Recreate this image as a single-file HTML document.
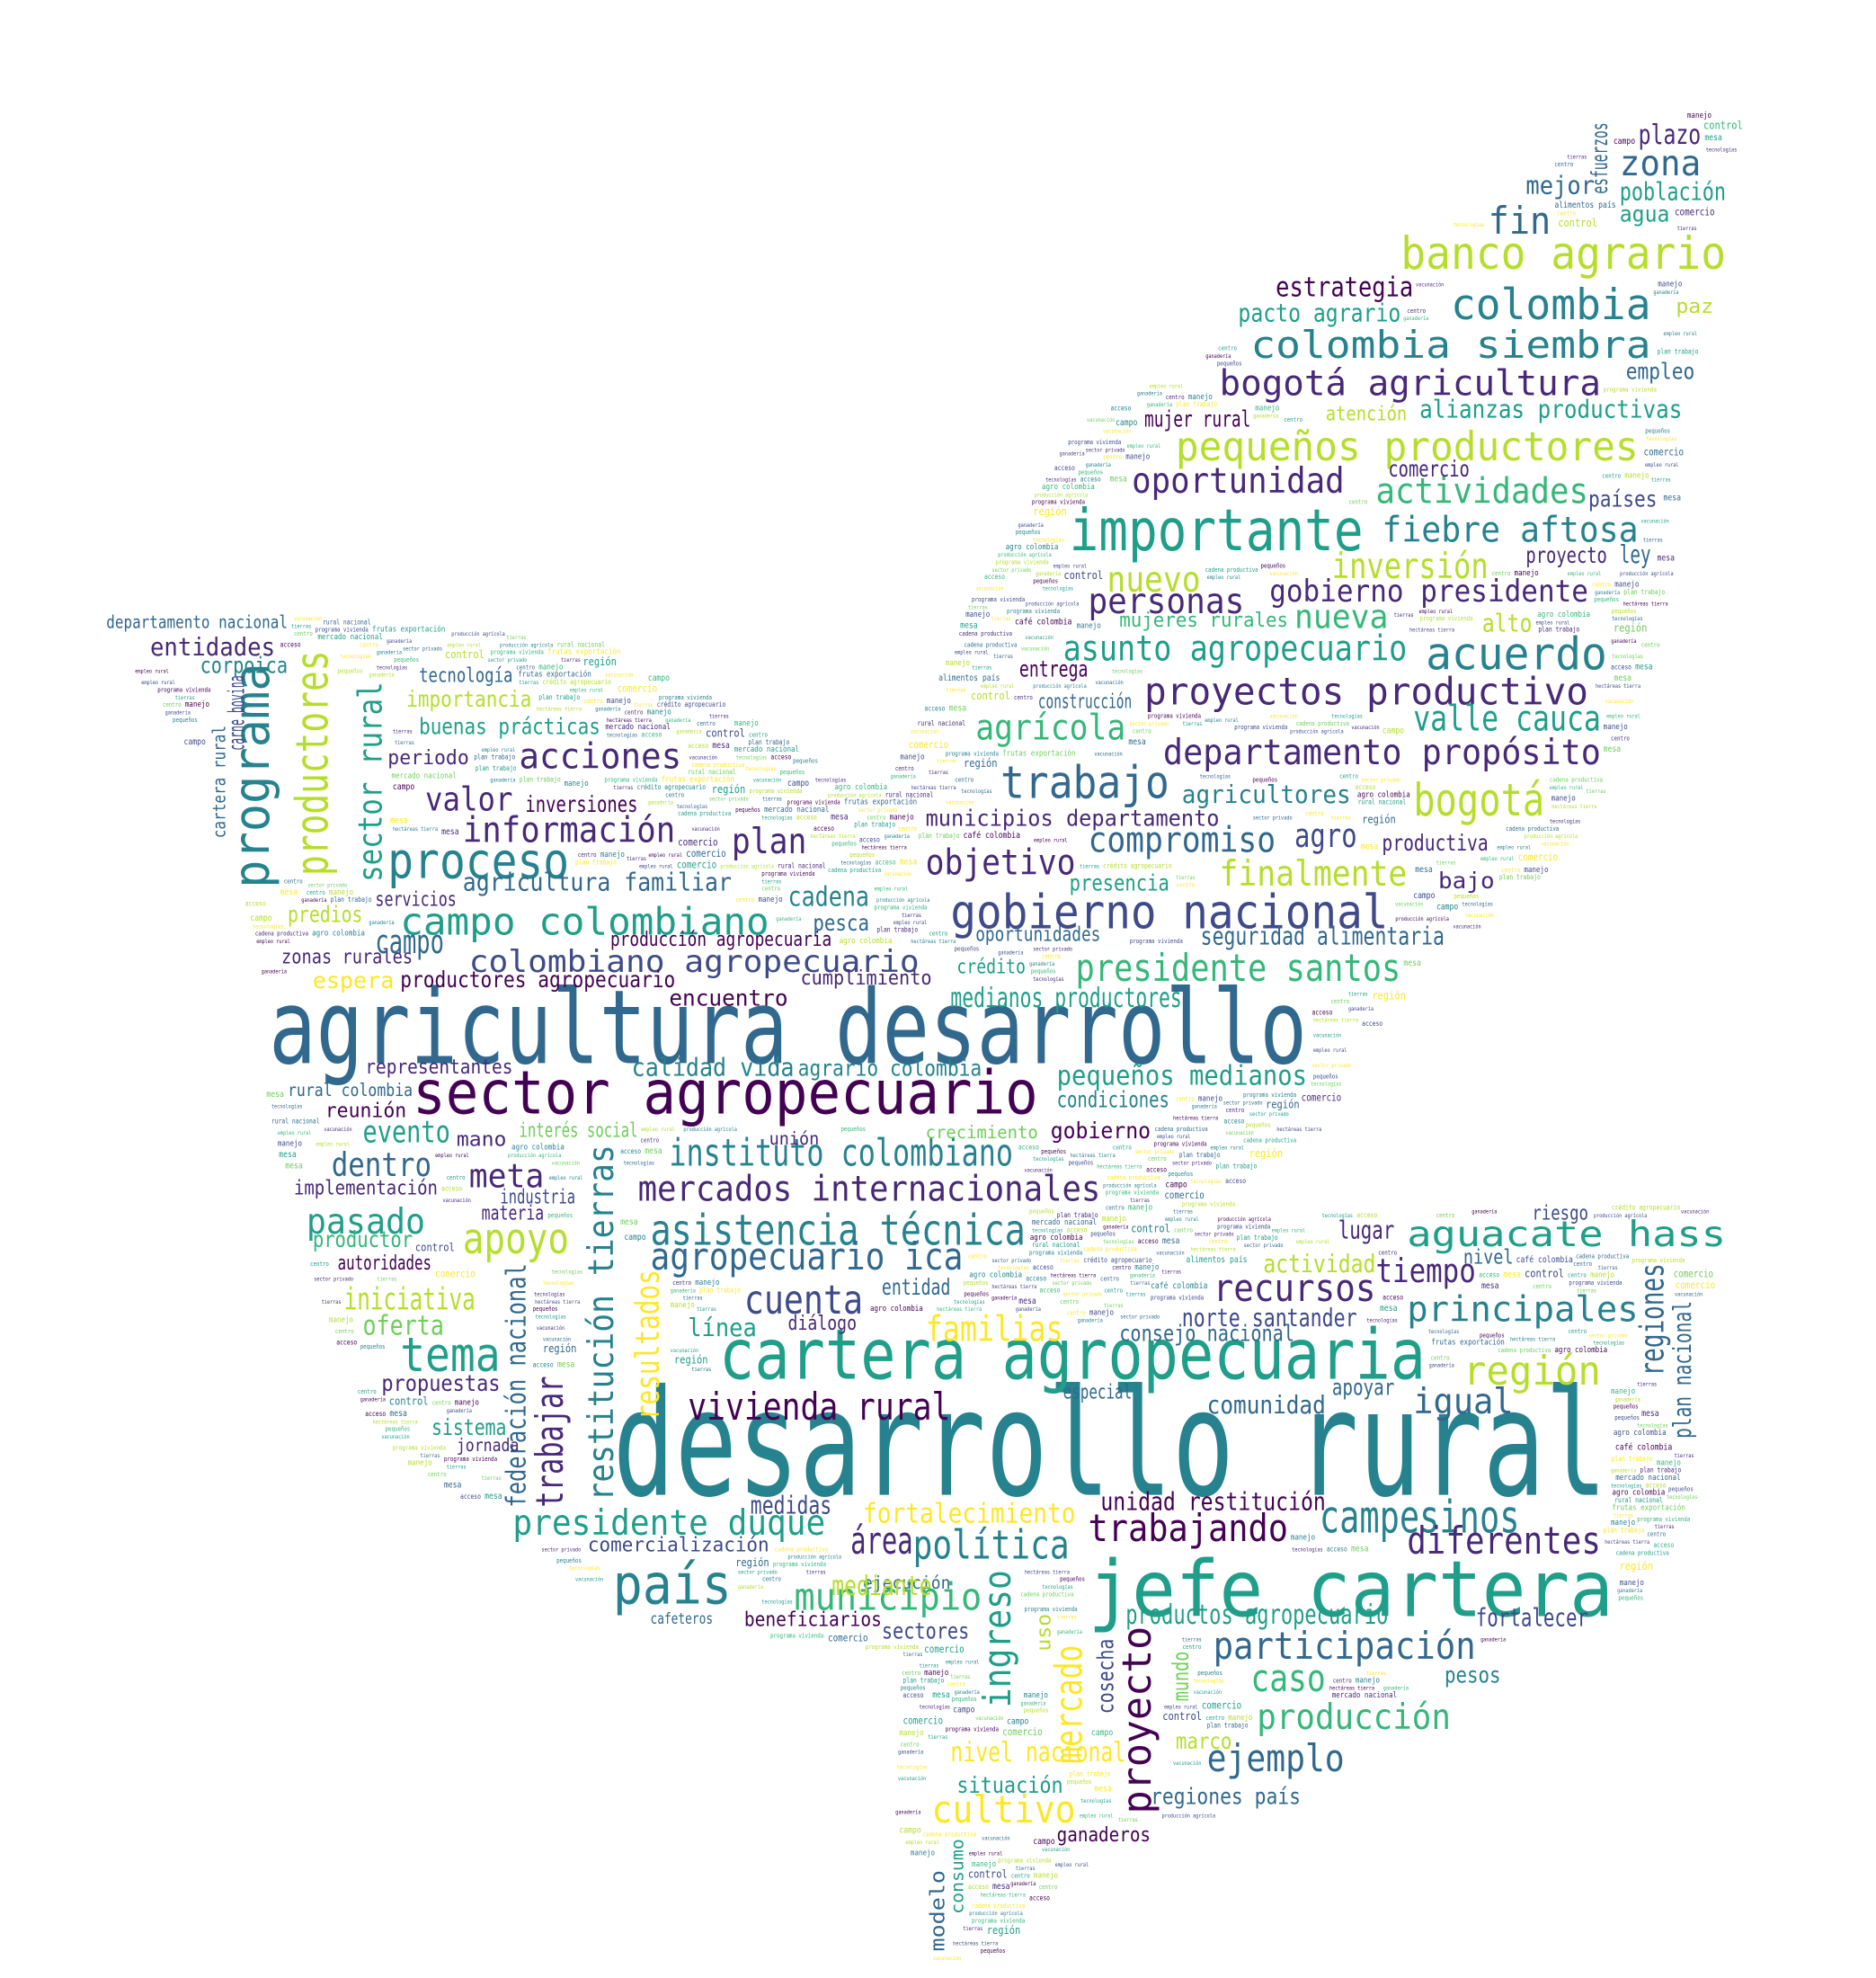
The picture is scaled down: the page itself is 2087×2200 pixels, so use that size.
<!DOCTYPE html>
<html><head><meta charset="utf-8"><style>
html,body{margin:0;padding:0;background:#fff;}
svg{display:block;}
text{font-family:"DejaVu Sans Mono","Liberation Mono",monospace;}
</style></head><body>
<svg id="cloud" width="2087" height="2200" viewBox="0 0 1500 1581.2" preserveAspectRatio="none" xmlns="http://www.w3.org/2000/svg">
<rect width="1500" height="1581.2" fill="#fff"/>
<g id="filler"></g>
<g id="main"></g>
</svg>
<script>
const C=['#440154','#482878','#3e4a89','#31688e','#26828e','#1f9e89','#35b779','#6ece58','#b5de2b','#fde725'];
// [text, a, b, c, size, colorIndex, rot]  rot0: x1,x2,baseline ; rot1: baselineX, yBottom, yTop
const words=[
["desarrollo rural",490,1285,1195,118,4,0],
["agricultura desarrollo",215,1045,850,82,3,0],
["jefe cartera",870,1290,1292,62,5,0],
["cartera agropecuaria",575,1140,1102,56,5,0],
["sector agropecuario",330,830,890,48,0,0],
["importante",855,1090,440,46,5,0],
["gobierno nacional",760,1110,742,38,2,0],
["banco agrario",1120,1380,215,36,8,0],
["colombia",1160,1320,255,34,4,0],
["colombia siembra",1000,1320,286,30,4,0],
["bogotá agricultura",975,1280,316,28,1,0],
["pequeños productores",940,1310,368,32,8,0],
["proyectos productivo",915,1270,563,30,1,0],
["acuerdo",1140,1285,535,36,4,0],
["campo colombiano",320,615,747,30,5,0],
["proceso",310,455,702,40,4,0],
["programa",215,710,530,40,4,1],
["productores",262,700,520,36,8,1],
["sector rural",305,705,545,26,5,1],
["asistencia técnica",520,820,995,34,4,0],
["mercados internacionales",510,880,960,28,1,0],
["instituto colombiano",535,810,932,30,4,0],
["país",490,585,1282,44,4,0],
["presidente santos",860,1120,784,30,6,0],
["trabajo",800,935,638,36,3,0],
["bogotá",1130,1235,652,36,8,0],
["campesinos",1055,1215,1225,36,4,0],
["vivienda rural",550,760,1135,30,0,0],
["política",730,855,1246,32,4,0],
["trabajando",870,1030,1232,30,0,0],
["presidente duque",410,660,1227,28,5,0],
["municipio",635,785,1287,30,6,0],
["cuenta",595,690,1050,32,2,0],
["tema",320,400,1096,38,5,0],
["apoyo",370,455,1002,34,8,0],
["agropecuario ica",520,770,1015,30,3,0],
["recursos",970,1100,1040,30,1,0],
["región",1170,1280,1107,32,8,0],
["aguacate hass",1125,1380,996,28,5,0],
["principales",1125,1310,1056,28,4,0],
["diferentes",1125,1280,1242,30,1,0],
["participación",970,1180,1326,30,3,0],
["producción",1005,1160,1382,28,6,0],
["ejemplo",965,1075,1416,30,3,0],
["caso",1000,1060,1352,30,6,0],
["cultivo",745,860,1457,30,9,0],
["fiebre aftosa",1105,1310,433,28,4,0],
["inversión",1065,1190,462,28,8,0],
["gobierno presidente",1015,1270,481,24,1,0],
["oportunidad",905,1075,394,28,1,0],
["nuevo",885,960,473,28,8,0],
["personas",870,995,490,28,1,0],
["actividades",1100,1270,402,28,6,0],
["alianzas productivas",1135,1345,334,20,5,0],
["valle cauca",1130,1280,584,28,5,0],
["departamento propósito",930,1280,611,28,1,0],
["asunto agropecuario",850,1125,528,28,5,0],
["agrícola",780,900,591,28,6,0],
["objetivo",740,860,699,28,1,0],
["compromiso",870,1020,681,28,3,0],
["finalmente",975,1125,708,28,8,0],
["información",370,540,673,28,1,0],
["acciones",415,545,614,28,1,0],
["valor",340,410,648,26,1,0],
["plan",585,645,682,28,1,0],
["colombiano agropecuario",375,735,777,24,2,0],
["productores agropecuario",320,540,789,18,0,0],
["fin",1190,1240,187,30,3,0],
["zona",1295,1360,140,28,3,0],
["estrategia",1020,1130,237,22,0,0],
["pacto agrario",990,1120,257,20,5,0],
["entidades",120,220,524,20,1,0],
["departamento nacional",85,230,502,14,3,0],
["dentro",265,345,940,26,3,0],
["evento",290,360,913,24,5,0],
["pasado",245,340,986,28,5,0],
["meta",375,435,949,26,1,0],
["iniciativa",275,380,1047,24,8,0],
["restitución tierras",490,1200,915,28,4,1],
["trabajar",450,1205,1100,30,1,1],
["federación nacional",420,1205,1010,22,3,1],
["proyecto",920,1450,1300,32,0,1],
["mercado",865,1410,1315,30,9,1],
["ingreso",808,1365,1255,30,5,1],
["resultados",527,1135,1015,26,9,1],
["fortalecimiento",690,860,1217,22,9,0],
["familias",740,850,1072,28,9,0],
["unidad restitución",880,1060,1207,20,0,0],
["seguridad alimentaria",960,1155,755,20,3,0],
["pequeños medianos",845,1045,867,22,5,0],
["medianos productores",760,945,805,22,5,0],
["nivel nacional",760,900,1408,22,9,0],
["medidas",600,665,1210,20,2,0],
["área",680,730,1242,30,1,0],
["comercialización",470,615,1240,16,2,0],
["beneficiarios",595,705,1300,16,0,0],
["sectores",705,775,1310,18,2,0],
["cafeteros",520,570,1298,12,3,0],
["situación",765,850,1433,18,5,0],
["ganaderos",845,920,1472,16,0,0],
["regiones país",920,1040,1442,18,3,0],
["productos agropecuario",900,1110,1298,22,5,0],
["fortalecer",1180,1270,1300,20,2,0],
["tiempo",1100,1180,1025,26,1,0],
["igual",1130,1210,1130,28,3,0],
["norte santander",945,1085,1060,20,2,0],
["consejo nacional",895,1035,1072,18,3,0],
["comunidad",965,1060,1130,20,3,0],
["especial",850,905,1118,16,3,0],
["línea",550,605,1068,20,5,0],
["diálogo",630,685,1063,16,1,0],
["entidad",705,760,1035,18,3,0],
["oferta",290,355,1067,22,7,0],
["propuestas",305,400,1112,18,1,0],
["sistema",345,405,1147,18,5,0],
["jornada",365,415,1160,14,1,0],
["materia",385,435,975,16,1,0],
["productor",250,330,997,18,6,0],
["autoridades",270,345,1015,16,0,0],
["implementación",235,350,955,16,1,0],
["reunión",260,325,893,16,0,0],
["representantes",292,410,858,16,1,0],
["rural colombia",230,330,876,14,3,0],
["calidad vida",505,635,860,20,4,0],
["agrario colombia",638,785,860,18,4,0],
["encuentro",535,630,804,18,0,0],
["cumplimiento",640,745,787,16,1,0],
["producción agropecuaria",488,665,756,16,0,0],
["agricultura familiar",370,585,712,20,3,0],
["servicios",300,365,724,16,1,0],
["inversiones",420,510,649,18,0,0],
["cadena",630,695,724,22,4,0],
["pesca",650,695,744,18,3,0],
["condiciones",845,935,885,18,4,0],
["gobierno",840,920,910,18,0,0],
["crecimiento",740,830,910,14,7,0],
["mano",365,405,916,16,1,0],
["interés social",415,510,909,16,7,0],
["presencia",855,935,712,18,5,0],
["oportunidades",780,880,752,16,3,0],
["crédito",765,820,778,16,5,0],
["construcción",830,905,566,16,3,0],
["entrega",815,870,541,18,0,0],
["mujeres rurales",895,1030,501,16,6,0],
["nueva",1035,1110,502,26,6,0],
["alto",1185,1225,505,20,8,0],
["agricultores",945,1080,642,20,4,0],
["agro",1035,1085,677,26,2,0],
["productiva",1105,1190,680,18,1,0],
["bajo",1150,1195,710,18,1,0],
["municipios departamento",740,975,660,18,1,0],
["mujer rural",915,1000,341,18,0,0],
["atención",1060,1125,336,16,8,0],
["comercio",1110,1175,381,18,1,0],
["plazo",1310,1360,115,22,1,0],
["mejor",1220,1275,155,20,3,0],
["población",1295,1380,160,20,5,0],
["agua",1295,1335,177,18,5,0],
["paz",1340,1370,250,16,8,0],
["empleo",1300,1355,303,18,3,0],
["esfuerzos",1285,155,98,18,3,1],
["países",1270,1325,405,18,2,0],
["proyecto",1220,1285,450,18,1,0],
["ley",1295,1320,450,20,3,0],
["regiones",1330,1100,1010,26,3,1],
["plan nacional",1352,1150,1040,20,3,1],
["lugar",1070,1115,990,20,1,0],
["actividad",1010,1100,1017,20,8,0],
["nivel",1170,1210,1010,16,3,0],
["riesgo",1225,1270,975,16,2,0],
["apoyar",1065,1115,1115,18,3,0],
["pesos",1155,1200,1345,18,4,0],
["marco",940,985,1398,18,8,0],
["ejecución",690,760,1270,14,3,0],
["mediante",665,745,1275,22,8,0],
["tecnología",335,410,545,16,3,0],
["importancia",325,425,565,18,8,0],
["buenas prácticas",335,480,587,18,5,0],
["periodo",310,375,611,16,1,0],
["corpoica",160,230,538,18,4,0],
["carne bovina",195,600,540,18,2,1],
["cartera rural",180,670,580,14,3,1],
["predios",230,290,737,18,8,0],
["zonas rurales",225,330,770,16,1,0],
["espera",250,315,790,18,9,0],
["campo",300,355,762,26,3,0],
["industria",400,460,962,16,2,0],
["unión",615,655,915,14,1,0],
["cosecha",890,1370,1310,18,2,1],
["mundo",950,1360,1320,18,7,1],
["uso",840,1320,1290,16,8,1],
["modelo",755,1560,1495,16,3,1],
["consumo",770,1530,1470,14,5,1]
];
const fillWords=["producción agrícola","rural nacional","campo","desarrollo territorial","pequeños","mercado nacional","gobierno","sector privado","política pública","tierras","crédito agropecuario","alimentos país","zonas rurales","cadena productiva","agro colombia","finagro","hectáreas tierra","productos leche","ganadería","plan trabajo","café colombia","región","programa vivienda","frutas exportación","arroz maíz","vacunación","comunidades indígenas","tecnologías","acceso","mesa","control","centro","manejo","ley tierra","empleo rural","comercio"];
const fillSizes=[4.5,5.5,7,9,5,6.5,11,4.5,8];
const poly=[[80,490],[240,488],[330,498],[480,510],[580,560],[650,600],[700,640],[740,560],[780,470],[860,340],[950,290],[1100,215],[1250,125],[1330,95],[1395,82],[1395,140],[1372,170],[1362,250],[1350,350],[1340,450],[1322,560],[1282,640],[1240,700],[1160,762],[1120,802],[1080,862],[1060,902],[1000,940],[990,972],[1375,962],[1368,1100],[1360,1200],[1330,1272],[1250,1302],[1150,1332],[1080,1400],[1000,1442],[880,1482],[830,1540],[795,1570],[745,1570],[735,1500],[715,1460],[720,1320],[600,1312],[470,1275],[420,1230],[330,1175],[295,1140],[258,1050],[230,960],[213,880],[210,800],[195,720],[172,640],[130,570],[80,505]];
function inside(x,y){let c=false;for(let i=0,j=poly.length-1;i<poly.length;j=i++){const[xi,yi]=poly[i],[xj,yj]=poly[j];if(((yi>y)!=(yj>y))&&(x<(xj-xi)*(y-yi)/(yj-yi)+xi))c=!c;}return c;}
const NS="http://www.w3.org/2000/svg";
const GW=750,GH=792,occ=new Uint8Array(GW*GH);
function mark(x0,y0,x1,y1){for(let gy=Math.max(0,Math.floor(y0/2));gy<=Math.min(GH-1,Math.floor(y1/2));gy++)for(let gx=Math.max(0,Math.floor(x0/2));gx<=Math.min(GW-1,Math.floor(x1/2));gx++)occ[gy*GW+gx]=1;}
function free(x0,y0,x1,y1){for(let gy=Math.max(0,Math.floor(y0/2));gy<=Math.min(GH-1,Math.floor(y1/2));gy++)for(let gx=Math.max(0,Math.floor(x0/2));gx<=Math.min(GW-1,Math.floor(x1/2));gx++)if(occ[gy*GW+gx])return false;return true;}
const main=document.getElementById('main');
words.forEach((w)=>{
  const [t,a,b,c,s,ci,rot]=w;
  const el=document.createElementNS(NS,'text');
  
  
  el.setAttribute('font-size',s);
  el.setAttribute('fill',C[ci]);
  el.setAttribute('lengthAdjust','spacingAndGlyphs');
  if(rot===0){
    el.setAttribute('x',a);el.setAttribute('y',c);
    el.setAttribute('textLength',b-a);
    mark(a-1,c-s*0.78,b+1,c+s*0.2);
  }else{
    el.setAttribute('x',0);el.setAttribute('y',0);
    el.setAttribute('transform','translate('+a+','+b+') rotate(-90)');
    el.setAttribute('textLength',b-c);
    mark(a-s*0.78,c,a+s*0.2,b);
  }
  el.textContent=t;
  main.appendChild(el);
});
const filler=document.getElementById('filler');
let k=0;
for(let y=88;y<1575;y+=3){
  let x=76+(y*7)%11;
  while(x<1400){
    const t=fillWords[k%fillWords.length];
    const fs=fillSizes[k%fillSizes.length];
    const wdt=t.length*fs*0.5;
    if(inside(x,y-fs*0.4)&&inside(x+wdt,y-fs*0.4)&&inside(x,y)&&inside(x+wdt,y-fs*0.7)&&free(x,y-fs*0.75,x+wdt,y+fs*0.15)){
      const el=document.createElementNS(NS,'text');
      
      
      el.setAttribute('x',x);el.setAttribute('y',y);
      el.setAttribute('font-size',fs);
      el.setAttribute('textLength',wdt);
      el.setAttribute('lengthAdjust','spacingAndGlyphs');
      el.setAttribute('fill',C[(k*3)%10]);
      el.textContent=t;
      filler.appendChild(el);
      mark(x,y-fs*0.75,x+wdt,y+fs*0.15);
      x+=wdt+3;
      k++;
    }else{
      x+=4;
      if(x%7<1)k++;
    }
  }
}
</script>
</body></html>
